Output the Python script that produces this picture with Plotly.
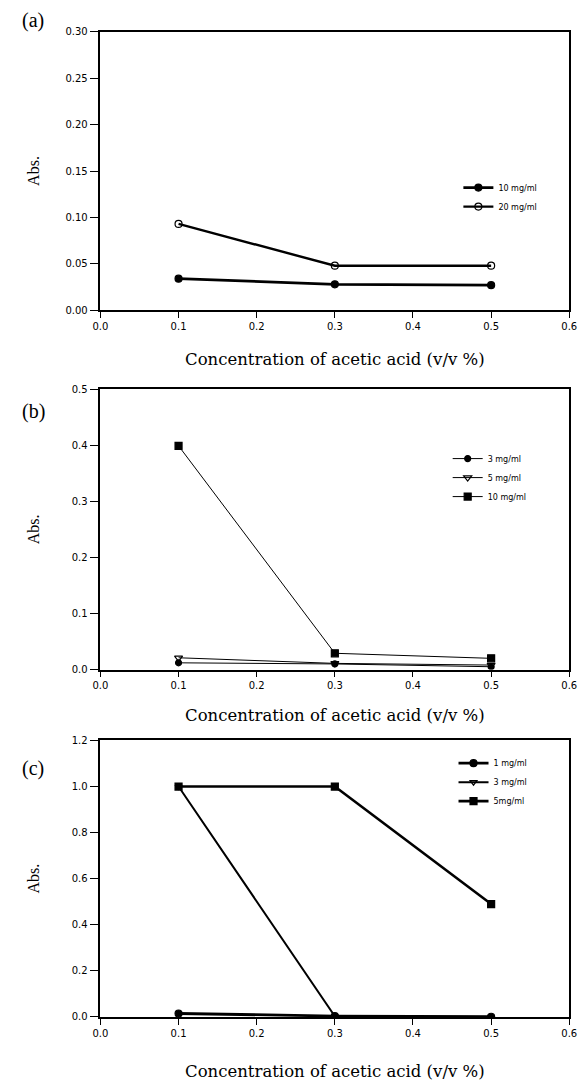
import plotly.graph_objects as go

# ---------------- data ----------------
x_conc = [0.1, 0.3, 0.5]

# panel (a)
a_names = ["10 mg/ml", "20 mg/ml"]
a_10 = [0.034, 0.028, 0.027]
a_20 = [0.093, 0.048, 0.048]

# panel (b)
b_names = ["3 mg/ml", "5 mg/ml", "10 mg/ml"]
b_3 = [0.012, 0.010, 0.005]
b_5 = [0.021, 0.011, 0.008]
b_10 = [0.399, 0.029, 0.020]

# panel (c)
c_names = ["1 mg/ml", "3 mg/ml", "5mg/ml"]
c_1 = [0.015, 0.004, 0.001]
c_3 = [1.0, 0.003, 0.0]
c_5 = [1.0, 1.0, 0.49]

x_ticks = [0.0, 0.1, 0.2, 0.3, 0.4, 0.5, 0.6]
a_yticks = [0.00, 0.05, 0.10, 0.15, 0.20, 0.25, 0.30]
b_yticks = [0.0, 0.1, 0.2, 0.3, 0.4, 0.5]
c_yticks = [0.0, 0.2, 0.4, 0.6, 0.8, 1.0, 1.2]

x_title = "Concentration of acetic acid (v/v %)"
y_title = "Abs."

W, H = 587, 1081

fig = go.Figure()

def tr(x, y, name, symbol, width, xa, ya, legend, size=7):
    fig.add_trace(go.Scatter(
        x=x, y=y, name=name, mode="lines+markers",
        line=dict(color="black", width=width),
        marker=dict(symbol=symbol, size=size, color="black",
                    line=dict(color="black", width=1.2)),
        xaxis=xa, yaxis=ya, legend=legend,
    ))

# (a)
tr(x_conc, a_10, a_names[0], "circle", 2.8, "x", "y", "legend")
tr(x_conc, a_20, a_names[1], "circle-open", 2.4, "x", "y", "legend")
# (b)
tr(x_conc, b_3, b_names[0], "circle", 1.0, "x2", "y2", "legend2", 6)
tr(x_conc, b_5, b_names[1], "triangle-down-open", 1.0, "x2", "y2", "legend2", 7)
tr(x_conc, b_10, b_names[2], "square", 1.0, "x2", "y2", "legend2", 7)
# (c)
tr(x_conc, c_1, c_names[0], "circle", 2.8, "x3", "y3", "legend3")
tr(x_conc, c_3, c_names[1], "triangle-down-open", 2.0, "x3", "y3", "legend3", 6)
tr(x_conc, c_5, c_names[2], "square", 2.6, "x3", "y3", "legend3", 7)

def px_dom_y(top, bottom):
    return [1 - bottom / H, 1 - top / H]

x_dom = [95 / W, 577 / W]

tick_font = dict(family="DejaVu Sans", size=10, color="black")
title_font = dict(family="DejaVu Serif", size=16.5, color="black")

def xaxis(anchor, standoff):
    return dict(domain=x_dom, anchor=anchor, range=[0, 0.6], tickvals=x_ticks,
                ticktext=[f"{v:.1f}" for v in x_ticks],
                showline=True, linecolor="black", linewidth=1.5, mirror=True,
                ticks="outside", ticklen=6, tickwidth=1.2, tickcolor="black",
                showgrid=False, zeroline=False, tickfont=tick_font,
                title=dict(text=x_title, font=title_font, standoff=standoff))

def yaxis(anchor, dom, rng, vals, fmt, standoff):
    return dict(domain=dom, anchor=anchor, range=rng, tickvals=vals,
                ticktext=[fmt.format(v) for v in vals],
                showline=True, linecolor="black", linewidth=1.5, mirror=True,
                ticks="outside", ticklen=9, tickwidth=1.2, tickcolor="black",
                showgrid=False, zeroline=False, tickfont=tick_font,
                title=dict(text=y_title, font=dict(family="Liberation Serif", size=16, color="black"),
                           standoff=standoff))

leg_font = dict(family="DejaVu Sans", size=8, color="black")

fig.update_layout(
    width=W, height=H,
    margin=dict(l=0, r=0, t=0, b=0),
    paper_bgcolor="white", plot_bgcolor="white",
    showlegend=True,
    xaxis=xaxis("y", 22),
    yaxis=yaxis("x", px_dom_y(26, 307.7), [0, 0.30], a_yticks, "{:.2f}", 22),
    xaxis2=xaxis("y2", 19),
    yaxis2=yaxis("x2", px_dom_y(387.5, 671), [0, 0.5], b_yticks, "{:.1f}", 28),
    xaxis3=xaxis("y3", 28),
    yaxis3=yaxis("x3", px_dom_y(742.7, 1022.3), [0, 1.2], c_yticks, "{:.1f}", 28),
    legend=dict(x=463 / W, y=1 - 169 / H, xanchor="left", yanchor="top",
                font=leg_font, bgcolor="rgba(0,0,0,0)", itemwidth=30,
                tracegroupgap=0),
    legend2=dict(x=452 / W, y=1 - 443 / H, xanchor="left", yanchor="top",
                 font=leg_font, bgcolor="rgba(0,0,0,0)", itemwidth=30),
    legend3=dict(x=458 / W, y=1 - 751 / H, xanchor="left", yanchor="top",
                 font=leg_font, bgcolor="rgba(0,0,0,0)", itemwidth=30),
    annotations=[
        dict(text="(a)", x=12 / W, y=1 - 15 / H, xref="paper", yref="paper",
             showarrow=False, xanchor="left", yanchor="middle",
             font=dict(family="Liberation Serif", size=20, color="black")),
        dict(text="(b)", x=12 / W, y=1 - 410 / H, xref="paper", yref="paper",
             showarrow=False, xanchor="left", yanchor="middle",
             font=dict(family="Liberation Serif", size=20, color="black")),
        dict(text="(c)", x=12 / W, y=1 - 771 / H, xref="paper", yref="paper",
             showarrow=False, xanchor="left", yanchor="middle",
             font=dict(family="Liberation Serif", size=20, color="black")),
    ],
)

fig.write_html("out.html")
